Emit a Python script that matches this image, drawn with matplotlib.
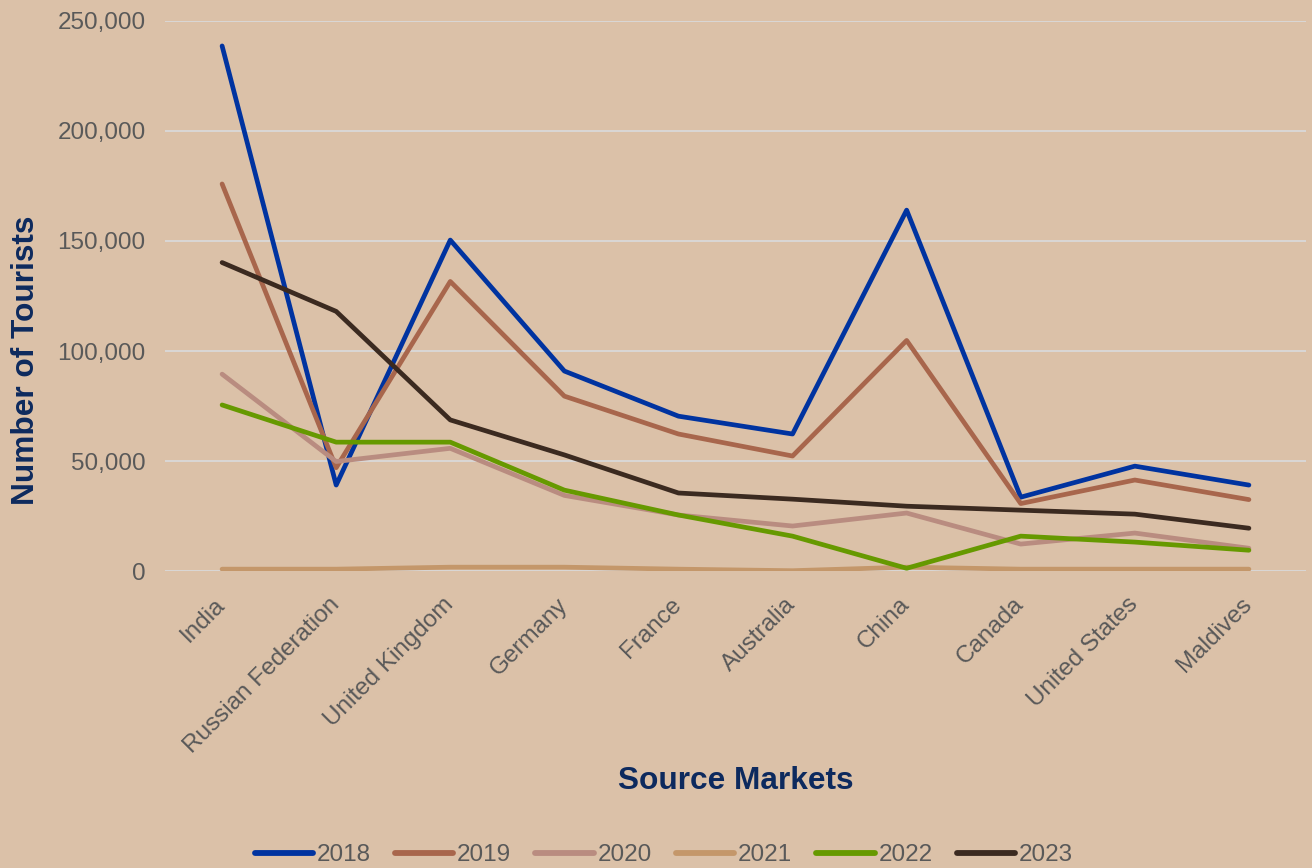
import matplotlib.pyplot as plt
from matplotlib.ticker import FuncFormatter
from matplotlib.transforms import ScaledTranslation

plt.rcParams['font.family'] = ['Liberation Sans', 'DejaVu Sans']

# Data
markets = ['India', 'Russian Federation', 'United Kingdom', 'Germany', 'France',
           'Australia', 'China', 'Canada', 'United States', 'Maldives']
years = ['2018', '2019', '2020', '2021', '2022', '2023']
v2018 = [238600, 39100, 150400, 90900, 70400, 62300, 164000, 33600, 47700, 39100]
v2019 = [175900, 47000, 131600, 79500, 62300, 52300, 104800, 30700, 41400, 32500]
v2020 = [89500, 49800, 55800, 34400, 25500, 20500, 26400, 12300, 17300, 10400]
v2021 = [900, 900, 1800, 1800, 900, 200, 1800, 900, 900, 900]
v2022 = [75500, 58600, 58600, 36800, 25500, 15900, 1300, 15900, 13200, 9500]
v2023 = [140200, 118000, 68700, 52800, 35500, 32700, 29500, 27700, 25900, 19500]
series = [v2018, v2019, v2020, v2021, v2022, v2023]
colors = ['#0033a0', '#a8664c', '#b98c80', '#c4976a', '#669900', '#3b2a20']

bg = '#dbc1a8'
txt = '#595959'
navy = '#0d2a5e'

fig = plt.figure(figsize=(13.12, 8.68), dpi=100, facecolor=bg)
ax = fig.add_axes([0.1258, 0.342, 0.8696, 0.634], facecolor=bg)

x = range(len(markets))
for yr, vals, c in zip(years, series, colors):
    ax.plot(x, vals, color=c, lw=3.4, label=yr, solid_capstyle='round')

ax.set_xlim(-0.5, len(markets) - 0.5)
ax.set_ylim(0, 250000)
ax.set_yticks(range(0, 250001, 50000))
ax.yaxis.set_major_formatter(FuncFormatter(lambda v, p: f'{int(v):,}'))
ax.grid(axis='y', color='#d9d9d9', lw=1.3)
ax.set_axisbelow(True)
for s in ax.spines.values():
    s.set_visible(False)
ax.tick_params(length=0, labelsize=17.5, colors=txt)
ax.tick_params(axis='y', pad=14)
ax.tick_params(axis='x', pad=14)
ax.set_xticks(list(x))
ax.set_xticklabels(markets, rotation=45, ha='right', va='top', rotation_mode='anchor')
shift = ScaledTranslation(-8 / 100, -3 / 100, fig.dpi_scale_trans)
for lab in ax.get_xticklabels():
    lab.set_transform(lab.get_transform() + shift)

ax.set_ylabel('Number of Tourists', fontsize=22.8, fontweight='bold', color=navy,
              labelpad=12, y=0.383)
ax.set_xlabel('Source Markets', fontsize=22.8, fontweight='bold', color=navy, labelpad=6)

leg = fig.legend(loc='lower center', bbox_to_anchor=(0.506, -0.023), ncol=6, frameon=False,
                 fontsize=17.5, handlelength=2.4, columnspacing=1.0, handletextpad=0.15)
for t in leg.get_texts():
    t.set_color(txt)
for h in leg.get_lines():
    h.set_linewidth(4.2)
    h.set_solid_capstyle('round')

fig.savefig('out.png', dpi=100, facecolor=bg)
